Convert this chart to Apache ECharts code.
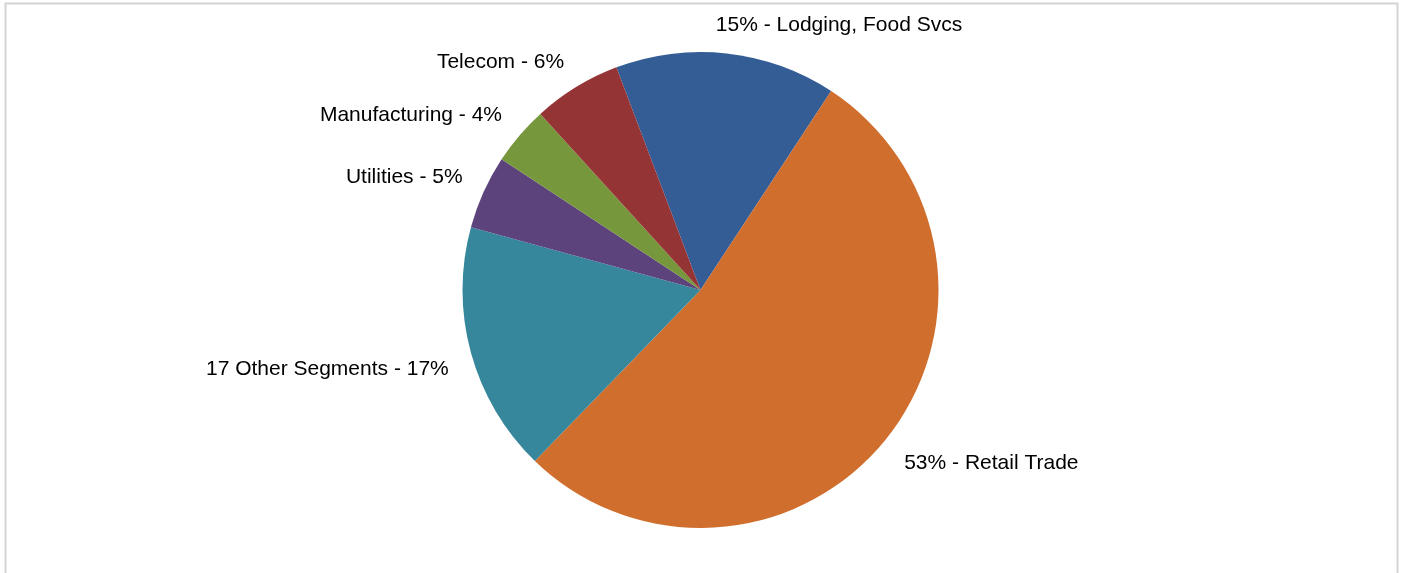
<!DOCTYPE html>
<html>
<head>
<meta charset="utf-8">
<script src="https://cdn.jsdelivr.net/npm/echarts@6/dist/echarts.min.js"></script>
<style>
  html, body { margin: 0; padding: 0; background: #ffffff; }
  #chart { width: 1401px; height: 573px; }
</style>
</head>
<body>
<div id="chart"></div>
<script>
// Segment shares, listed clockwise starting just left of 12 o'clock
const segments = ['Lodging, Food Svcs', 'Retail Trade', '17 Other Segments', 'Utilities', 'Manufacturing', 'Telecom'];
const shares = [15, 53, 17, 5, 4, 6];
const colors = ['#355d95', '#d06e2e', '#37879c', '#5d437b', '#77973d', '#953435'];
// Segments whose label reads "pct - name" rather than "name - pct"
const pctFirst = ['Lodging, Food Svcs', 'Retail Trade'];

const CX = 700.5, CY = 290, R = 238;
const START = 110.7;          // echarts startAngle (deg, ccw from 3 o'clock)
const LABEL_GAP = 23;         // gap between pie edge and nearest label corner
const TEXT_INSET = 5;         // blank space under glyphs inside a text box

// mid angle of each slice, clockwise from 12 o'clock, in radians
const total = shares.reduce(function (a, b) { return a + b; }, 0);
const midAngles = [];
(function () {
  let acc = 90 - START;
  shares.forEach(function (v) {
    const sweep = v / total * 360;
    midAngles.push((acc + sweep / 2) * Math.PI / 180);
    acc += sweep;
  });
})();

const chart = echarts.init(document.getElementById('chart'), null, { renderer: 'canvas' });

chart.setOption({
  animation: false,
  backgroundColor: '#ffffff',
  graphic: [{
    type: 'rect',
    shape: { x: 5.5, y: 3.5, width: 1392, height: 600 },
    style: { fill: 'none', stroke: '#d4d4d4', lineWidth: 2 },
    silent: true
  }],
  series: [{
    type: 'pie',
    center: [CX, CY],
    radius: [0, R],
    startAngle: START,
    clockwise: true,
    avoidLabelOverlap: false,
    itemStyle: { borderWidth: 0 },
    label: {
      show: true,
      position: 'outside',
      color: '#000000',
      fontFamily: 'Liberation Sans, Arial, sans-serif',
      fontSize: 21,
      formatter: function (p) {
        return pctFirst.indexOf(p.name) >= 0
          ? p.value + '% - ' + p.name
          : p.name + ' - ' + p.value + '%';
      }
    },
    labelLine: { show: false, length: 20, length2: 0 },
    // place the label corner nearest the centre on a ring just outside the pie;
    // labels close to the vertical axis slide back toward being centred on it
    labelLayout: function (params) {
      const a = midAngles[params.dataIndex];
      const ux = Math.sin(a), uy = -Math.cos(a);
      const w = params.labelRect.width;
      const slide = 0.5 * (1 - Math.min(1, Math.abs(ux) / 0.123));
      const px = CX + (R + LABEL_GAP) * ux;
      const py = CY + (R + LABEL_GAP) * uy;
      return {
        x: ux >= 0 ? px - w * slide : px + w * slide,
        y: uy < 0 ? py + TEXT_INSET : py,
        align: ux >= 0 ? 'left' : 'right',
        verticalAlign: uy < 0 ? 'bottom' : 'top'
      };
    },
    emphasis: { disabled: true },
    data: segments.map(function (name, i) {
      return { name: name, value: shares[i], itemStyle: { color: colors[i] } };
    })
  }]
});
</script>
</body>
</html>
